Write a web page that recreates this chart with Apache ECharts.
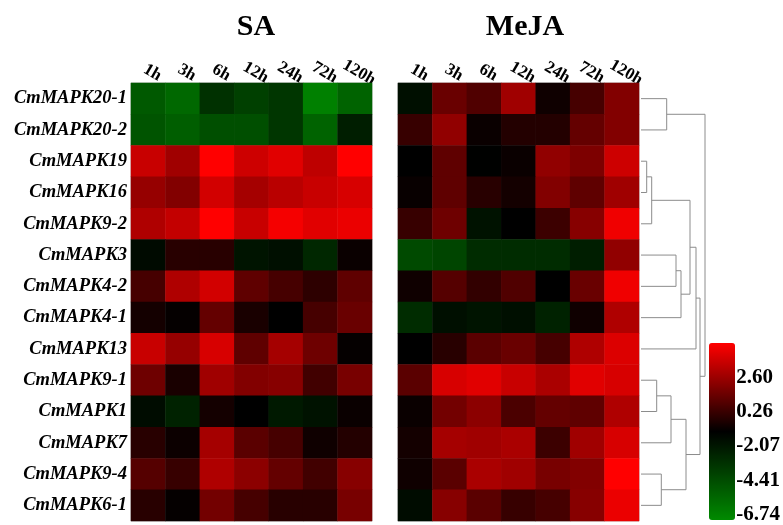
<!DOCTYPE html>
<html>
<head>
<meta charset="utf-8">
<script src="https://cdn.jsdelivr.net/npm/echarts@6/dist/echarts.min.js"></script>
<style>
  html, body { margin: 0; padding: 0; background: #fff; }
  #chart { width: 783px; height: 525px; }
</style>
</head>
<body>
<div id="chart"></div>
<script>
var times = ['1h', '3h', '6h', '12h', '24h', '72h', '120h']
var genes = ['CmMAPK20-1', 'CmMAPK20-2', 'CmMAPK19', 'CmMAPK16', 'CmMAPK9-2', 'CmMAPK3', 'CmMAPK4-2',
  'CmMAPK4-1', 'CmMAPK13', 'CmMAPK9-1', 'CmMAPK1', 'CmMAPK7', 'CmMAPK9-4', 'CmMAPK6-1']

// log2 fold change, one row per gene, one column per time point
var saValues = [
  [-4.65, -5.28, -2.99, -3.61, -3.19, -6.32, -5.07],
  [-4.44, -4.86, -4.24, -4.24, -3.19, -5.07, -2.15],
  [3.68, 2.76, 4.94, 3.79, 4.25, 3.45, 4.94],
  [2.54, 2.08, 3.91, 2.88, 3.34, 3.68, 4.02],
  [3.11, 3.57, 4.94, 3.68, 4.71, 4.25, 4.48],
  [-1.32, 0.02, 0.02, -1.73, -1.53, -2.57, -0.67],
  [0.70, 3.11, 3.91, 1.28, 0.70, 0.13, 1.28],
  [-0.44, -0.79, 1.39, -0.33, -0.90, 0.70, 1.50],
  [3.68, 2.54, 4.02, 1.28, 2.88, 1.62, -0.79],
  [1.62, -0.33, 2.76, 2.08, 2.19, 0.59, 1.85],
  [-1.40, -2.36, -0.44, -0.90, -1.94, -1.65, -0.67],
  [0.02, -0.63, 2.88, 1.16, 0.70, -0.56, -0.10],
  [1.05, 0.36, 3.11, 2.31, 1.39, 0.59, 2.19],
  [0.02, -0.79, 1.73, 0.70, 0.02, 0.02, 1.85]
]
var mejaValues = [
  [-1.53, 1.50, 0.93, 2.76, -0.56, 0.70, 2.08],
  [0.36, 2.42, -0.67, -0.10, -0.10, 1.39, 2.08],
  [-0.90, 1.28, -0.95, -0.67, 2.42, 1.96, 3.79],
  [-0.72, 1.28, 0.02, -0.44, 2.08, 1.28, 2.76],
  [0.36, 1.62, -1.65, -0.90, 0.47, 2.19, 4.60],
  [-4.03, -3.82, -2.78, -2.78, -2.78, -2.15, 2.42],
  [-0.56, 1.05, 0.25, 0.93, -0.90, 1.50, 4.60],
  [-2.78, -1.53, -1.73, -1.53, -2.36, -0.56, 3.11],
  [-0.90, 0.02, 1.16, 1.50, 0.70, 3.11, 4.14],
  [1.16, 4.02, 4.25, 3.68, 2.99, 4.25, 4.02],
  [-0.67, 1.73, 2.31, 0.82, 1.39, 1.28, 3.11],
  [-0.44, 2.88, 2.76, 2.99, 0.47, 2.76, 4.02],
  [-0.56, 1.16, 2.99, 2.76, 1.85, 2.08, 4.94],
  [-1.40, 2.19, 1.16, 0.36, 0.70, 2.19, 4.48]
]

// row clustering: [child a, child b, height]; leaves are 0..13, merges get ids 14, 15, ...
var merges = [
  [2, 3, 5.7], [14, 4, 10.7], [9, 10, 15.7], [12, 13, 20.3], [0, 1, 25.7],
  [16, 11, 30], [5, 6, 35], [20, 7, 40], [19, 17, 45], [15, 21, 49],
  [23, 8, 55], [24, 22, 59], [18, 25, 64]
]

var scaleMin = -6.74
var scaleMax = 4.94
var scaleLabels = ['-6.74', '-4.41', '-2.07', '0.26', '2.60']

function cells (rows) {
  var out = []
  rows.forEach(function (row, i) {
    row.forEach(function (v, j) { out.push([j, i, v]) })
  })
  return out
}

// dendrogram branches from the merge list
var nodeY = genes.map(function (g, i) { return i })
var nodeH = genes.map(function () { return 0 })
var branches = []
merges.forEach(function (m) {
  var a = m[0], b = m[1], h = m[2]
  branches.push({coords: [[nodeH[a], nodeY[a]], [h, nodeY[a]], [h, nodeY[b]], [nodeH[b], nodeY[b]]]})
  nodeY.push((nodeY[a] + nodeY[b]) / 2)
  nodeH.push(h)
})

var serif = 'Liberation Serif'
var chart = echarts.init(document.getElementById('chart'))

function heatX (idx) {
  return {
    type: 'category', gridIndex: idx, data: times, position: 'top',
    axisLine: {show: false}, axisTick: {show: false}, splitArea: {show: false},
    axisLabel: {interval: 0, rotate: 30, margin: 3, align: 'center', verticalAlign: 'bottom',
      fontFamily: serif, fontWeight: 'bold', fontSize: 17, color: '#000'}
  }
}

chart.setOption({
  animation: false,
  title: [
    {text: 'SA', left: 251, top: 7, textAlign: 'center',
      textStyle: {fontFamily: serif, fontWeight: 'bold', fontSize: 30, color: '#000'}},
    {text: 'MeJA', left: 520, top: 7, textAlign: 'center',
      textStyle: {fontFamily: serif, fontWeight: 'bold', fontSize: 30, color: '#000'}}
  ],
  grid: [
    {left: 131, top: 83, width: 241, height: 438, show: true, borderColor: '#bbb', borderWidth: 1},
    {left: 398, top: 83, width: 241, height: 438, show: true, borderColor: '#bbb', borderWidth: 1},
    {left: 641, top: 83, width: 64, height: 438},
    {left: 709, top: 343, width: 26, height: 177}
  ],
  xAxis: [
    heatX(0),
    heatX(1),
    {type: 'value', gridIndex: 2, min: 0, max: 64, show: false},
    {type: 'value', gridIndex: 3, show: false}
  ],
  yAxis: [
    {type: 'category', gridIndex: 0, data: genes, inverse: true,
      axisLine: {show: false}, axisTick: {show: false},
      axisLabel: {interval: 0, margin: 4, fontFamily: serif, fontWeight: 'bold', fontStyle: 'italic', fontSize: 18.5, color: '#000'}},
    {type: 'category', gridIndex: 1, data: genes, inverse: true, show: false},
    {type: 'value', gridIndex: 2, min: -0.5, max: 13.5, inverse: true, show: false},
    {type: 'value', gridIndex: 3, position: 'right', min: scaleMin, max: scaleMax, interval: 2.335,
      axisLine: {show: false}, axisTick: {show: false}, splitLine: {show: false},
      axisLabel: {
        margin: 2, fontFamily: serif, fontWeight: 'bold', fontSize: 21, color: '#000',
        formatter: function (v) {
          var best = ''
          scaleLabels.forEach(function (s) { if (Math.abs(parseFloat(s) - v) < 0.05) best = s })
          return best
        }
      }}
  ],
  visualMap: {
    type: 'continuous', seriesIndex: [0, 1], min: scaleMin, max: scaleMax,
    left: 709, top: 343, itemWidth: 26, itemHeight: 177, padding: 0,
    calculable: false, text: null, showLabel: false,
    inRange: {color: ['#008a00', '#000000', '#ff0000']}
  },
  series: [
    {type: 'heatmap', xAxisIndex: 0, yAxisIndex: 0, data: cells(saValues), emphasis: {disabled: true}},
    {type: 'heatmap', xAxisIndex: 1, yAxisIndex: 1, data: cells(mejaValues), emphasis: {disabled: true}},
    {type: 'lines', coordinateSystem: 'cartesian2d', xAxisIndex: 2, yAxisIndex: 2, polyline: true,
      data: branches, lineStyle: {color: '#8c8c8c', width: 1, opacity: 1}, silent: true}
  ]
})
</script>
</body>
</html>
